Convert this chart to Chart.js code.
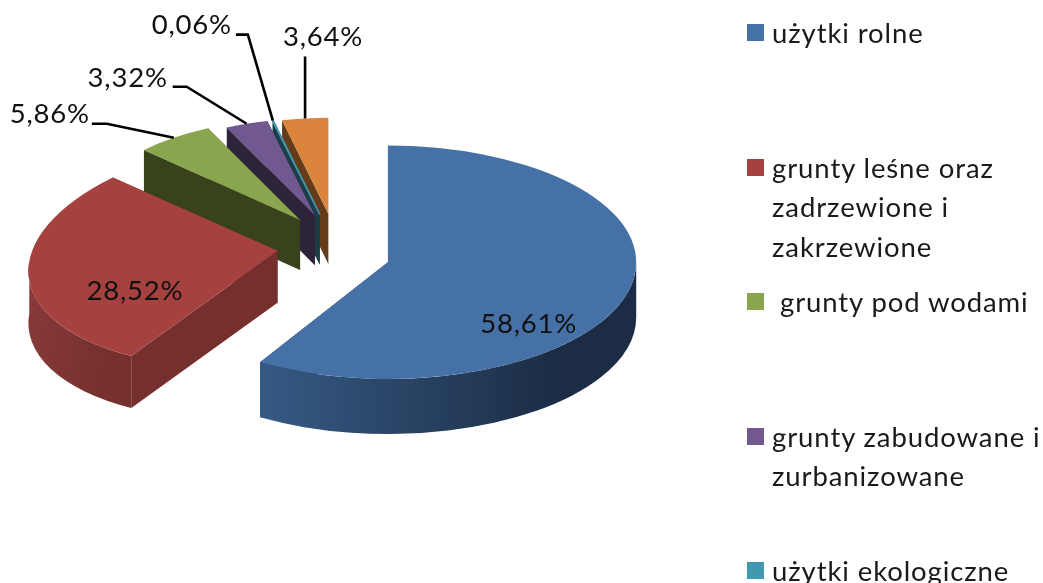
<!DOCTYPE html>
<html lang="pl">
<head>
<meta charset="utf-8">
<title>Struktura użytkowania gruntów</title>
<script src="https://cdn.jsdelivr.net/npm/chart.js@4"></script>
<style>
  html, body { margin: 0; background: #fff; overflow: hidden; }
  #wrap { position: relative; width: 1043px; height: 583px; overflow: hidden; }
  #legend { position: absolute; left: 747px; top: 0; width: 296px; font: 27.5px Lato, sans-serif; color: #1a1a1a; }
  .item { position: absolute; left: 0; width: 296px; }
  .swatch { position: absolute; left: 0; top: 0; width: 17px; height: 17px; }
  .text { position: absolute; left: 25px; top: -11px; width: 278px; line-height: 39.5px; white-space: pre-wrap; letter-spacing: 0.9px; }
</style>
</head>
<body>
<div id="wrap">
  <canvas id="chart" width="1043" height="583"></canvas>
  <div id="legend"></div>
</div>
<script>
const categories = [
  'użytki rolne',
  'grunty leśne oraz zadrzewione i zakrzewione',
  ' grunty pod wodami',
  'grunty zabudowane i zurbanizowane',
  'użytki ekologiczne',
  '' // wpis ucięty w oryginale, poza dolną krawędzią
];
const values = [58.61, 28.52, 5.86, 3.32, 0.06, 3.64];

const topColors = ['#4571a7', '#a5423f', '#89a54e', '#71588f', '#4198af', '#db843d'];
const wallColors = ['#1b2c44', '#752f2d', '#38421c', '#2d233a', '#1a3d46', '#643c19'];
const rimColors = [['#365a84', '#1b2c44'], ['#8a3a38', '#76302e'], null, null, null, null];

// pseudo 3D settings
const EXPLODE = 58;
const TILT = 0.47;
const PERSPECTIVE = 0.16;

// small per slice corrections, the original has a real perspective
const sliceTweak = [
  { dx: 0, dy: 7, scale: 0.98, depth: 55 },
  { dx: 3, dy: -1, scale: 1, depth: 52, skewX: -0.087, skewY: -0.088 },
  { dx: 2, dy: -6, scale: 1.02, depth: 50 },
  { dx: 2, dy: -7, scale: 1, depth: 50 },
  { dx: 1, dy: -7, scale: 1, depth: 50 },
  { dx: 3, dy: -7, scale: 1, depth: 50 }
];

// where each value label sits, relative to the point on its slice
const labelLayout = [
  { along: 0.68, text: [-22, 41] },
  { along: 0.58, text: [0, 31] },
  { along: 1, text: [-124, -24], line: [[-67, -14], [-82, -14]] },
  { along: 1, text: [-119, -46], line: [[-60, -37], [-74, -37]] },
  { along: 1, text: [-81, -95], line: [[-25, -86], [-37, -86]] },
  { along: 1, text: [18, -81], line: [[0, -62]] }
];

function pose(arc, i) {
  const mid = (arc.startAngle + arc.endAngle) / 2;
  const t = sliceTweak[i];
  return {
    mid,
    s: (1 + PERSPECTIVE * Math.sin(mid)) * t.scale,
    ax: arc.x + Math.cos(mid) * EXPLODE + t.dx,
    ay: arc.y + Math.sin(mid) * EXPLODE * TILT + t.dy
  };
}

function enter(ctx, arc, p, t) {
  ctx.translate(p.ax, p.ay);
  ctx.scale(p.s, p.s * TILT);
  ctx.transform(1, t.skewY || 0, t.skewX || 0, 1, 0, 0);
  ctx.translate(-arc.x, -arc.y);
}

// straight down on screen, expressed in the skewed slice space
function depthVector(p, t) {
  const d = t.depth / (p.s * TILT);
  const sx = t.skewX || 0;
  const sy = t.skewY || 0;
  const det = 1 - sx * sy;
  return { x: -sx * d / det, y: d / det };
}

function drawEdgeWall(ctx, arc, angle, v) {
  const px = arc.x + Math.cos(angle) * arc.outerRadius;
  const py = arc.y + Math.sin(angle) * arc.outerRadius;
  ctx.beginPath();
  ctx.moveTo(arc.x, arc.y);
  ctx.lineTo(px, py);
  ctx.lineTo(px + v.x, py + v.y);
  ctx.lineTo(arc.x + v.x, arc.y + v.y);
  ctx.closePath();
  ctx.fill();
}

function drawRim(ctx, arc, colors, v) {
  const a = Math.max(arc.startAngle, 0);
  const b = Math.min(arc.endAngle, Math.PI);
  if (!colors || b <= a) return;
  const r = arc.outerRadius;
  const g = ctx.createLinearGradient(arc.x + Math.cos(b) * r, 0, arc.x + Math.cos(a) * r, 0);
  g.addColorStop(0, colors[0]);
  g.addColorStop(0.8, colors[1]);
  g.addColorStop(1, colors[1]);
  ctx.fillStyle = g;
  ctx.beginPath();
  ctx.arc(arc.x, arc.y, r, a, b);
  ctx.arc(arc.x + v.x, arc.y + v.y, r, b, a, true);
  ctx.closePath();
  ctx.fill();
}

const pie3d = {
  id: 'pie3d',
  beforeDatasetDraw(chart) {
    const ctx = chart.ctx;
    const arcs = chart.getDatasetMeta(0).data;
    // sides first, tops over them
    for (let i = arcs.length - 1; i >= 0; i--) {
      const arc = arcs[i];
      const t = sliceTweak[i];
      const p = pose(arc, i);
      const v = depthVector(p, t);
      ctx.save();
      enter(ctx, arc, p, t);
      ctx.fillStyle = wallColors[i];
      drawEdgeWall(ctx, arc, arc.startAngle, v);
      drawEdgeWall(ctx, arc, arc.endAngle, v);
      drawRim(ctx, arc, rimColors[i], v);
      ctx.restore();
    }
    arcs.forEach((arc, i) => {
      ctx.save();
      enter(ctx, arc, pose(arc, i), sliceTweak[i]);
      arc.draw(ctx);
      ctx.restore();
    });
    return false;
  },
  afterDatasetsDraw(chart) {
    const ctx = chart.ctx;
    ctx.save();
    ctx.font = '27.5px Lato, sans-serif';
    ctx.letterSpacing = '0.8px';
    ctx.textAlign = 'center';
    ctx.textBaseline = 'middle';
    ctx.lineWidth = 2.6;
    ctx.strokeStyle = '#000';
    ctx.fillStyle = '#111';
    chart.getDatasetMeta(0).data.forEach((arc, i) => {
      const p = pose(arc, i);
      const l = labelLayout[i];
      const r = arc.outerRadius * p.s * l.along;
      const x = p.ax + Math.cos(p.mid) * r;
      const y = p.ay + Math.sin(p.mid) * r * TILT;
      if (l.line) {
        ctx.beginPath();
        ctx.moveTo(x, y);
        l.line.forEach(o => ctx.lineTo(x + o[0], y + o[1]));
        ctx.stroke();
      }
      ctx.fillText(values[i].toFixed(2).replace('.', ',') + '%', x + l.text[0], y + l.text[1]);
    });
    ctx.restore();
  }
};

new Chart(document.getElementById('chart'), {
  type: 'pie',
  data: {
    labels: categories,
    datasets: [{
      data: values,
      backgroundColor: topColors,
      borderColor: topColors,
      borderWidth: [0, 0, 0, 0, 2, 0],
      radius: 243
    }]
  },
  options: {
    responsive: false,
    animation: false,
    layout: { padding: { right: 379, bottom: 87 } },
    plugins: { legend: { display: false }, tooltip: { enabled: false } }
  },
  plugins: [pie3d]
});

// legend sits beside the chart, one row per category
const legend = document.getElementById('legend');
categories.forEach((name, i) => {
  const item = document.createElement('div');
  item.className = 'item';
  item.style.top = (24 + i * 134.5) + 'px';
  const swatch = document.createElement('div');
  swatch.className = 'swatch';
  swatch.style.background = topColors[i];
  const text = document.createElement('div');
  text.className = 'text';
  text.textContent = name;
  item.append(swatch, text);
  legend.appendChild(item);
});
</script>
</body>
</html>
